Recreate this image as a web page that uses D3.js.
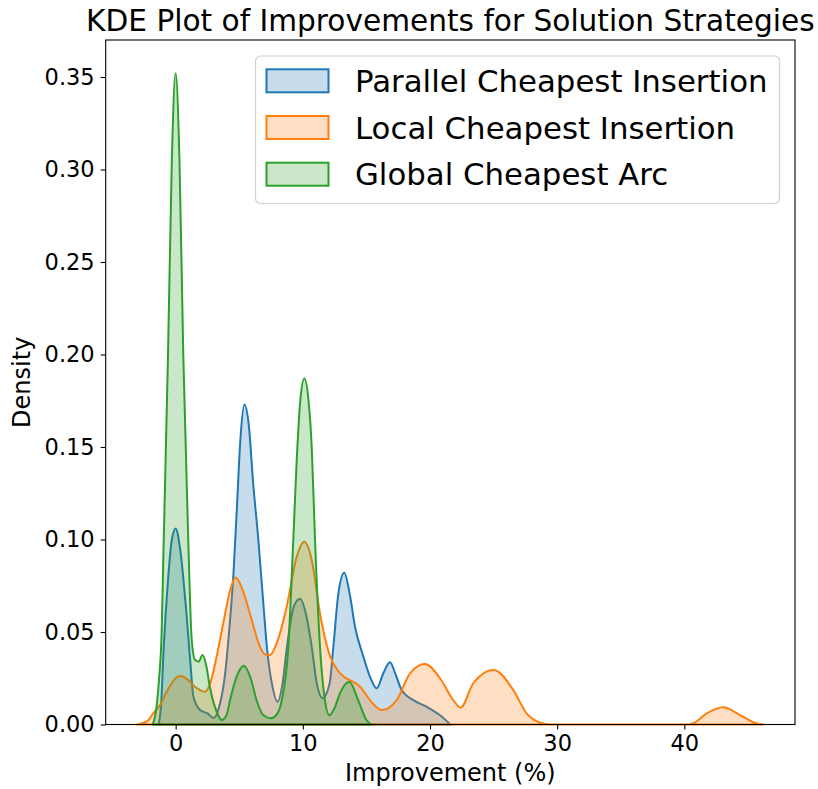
<!DOCTYPE html>
<html>
<head>
<meta charset="utf-8">
<script src="https://cdn.jsdelivr.net/npm/d3@7"></script>
<style>
  body { margin: 0; background: #fff; }
  text { font-family: "DejaVu Sans", sans-serif; fill: #000; }
</style>
</head>
<body>
<div class="home"></div>
<script>
// series names, in legend order
const seriesNames = ["Parallel Cheapest Insertion", "Local Cheapest Insertion", "Global Cheapest Arc"];
const seriesColors = ["#1f77b4", "#ff7f0e", "#2ca02c"];

// KDE curves: [improvement %, density]
const parallelPts = [[-1.35,0],[-1.15,0.01],[-0.95,0.04],[-0.6,0.078],[-0.3,0.1],[0,0.106],[0.35,0.095],[0.85,0.06],[1.15,0.034],[1.4,0.015],[1.9,0.008],[2.5,0.006],[3.0,0.0035],[3.4,0.009],[3.9,0.028],[4.2,0.05],[4.55,0.082],[4.8,0.115],[5.1,0.155],[5.4,0.173],[5.75,0.162],[6.1,0.13],[6.5,0.1],[6.9,0.065],[7.2,0.04],[7.6,0.021],[8.0,0.0123],[8.4,0.022],[8.75,0.042],[9.3,0.064],[9.78,0.068],[10.3,0.058],[10.7,0.042],[11.1,0.022],[11.56,0.0142],[12.1,0.022],[12.4,0.042],[12.8,0.071],[13.26,0.082],[13.7,0.07],[14.1,0.053],[14.76,0.0367],[15.28,0.0258],[15.81,0.0196],[16.33,0.0277],[16.85,0.0336],[17.3,0.027],[17.77,0.0186],[18.69,0.0132],[19.74,0.0096],[20.79,0.005],[21.6,0]];
const localPts = [[-3.07,0],[-2.28,0.0015],[-1.76,0.006],[-1.23,0.0105],[-0.6,0.019],[0,0.025],[0.34,0.0262],[0.9,0.0245],[1.52,0.0204],[2.3,0.0177],[2.7,0.022],[3.2,0.036],[3.75,0.055],[4.3,0.073],[4.72,0.0795],[5.2,0.074],[5.84,0.06],[6.63,0.042],[7.0,0.038],[7.42,0.0376],[8.0,0.045],[8.73,0.0637],[9.52,0.0907],[10.12,0.0988],[10.7,0.089],[11.35,0.06],[11.8,0.045],[12.14,0.037],[12.66,0.03],[13.2,0.026],[13.7,0.024],[14.5,0.0204],[15.28,0.0132],[16.2,0.0078],[17.38,0.0132],[18.43,0.0277],[19.6,0.0327],[20.79,0.025],[21.83,0.0132],[22.41,0.0091],[23.4,0.0223],[24.98,0.0295],[26.55,0.0186],[27.6,0.006],[28.65,0.001],[29.5,0],[40.2,0],[40.7,0.0007],[41.76,0.006],[43.07,0.0093],[44.38,0.0051],[45.7,0.0006],[46.2,0]];
const globalPts = [[-1.8,0],[-1.5,0.0096],[-1.3,0.025],[-1.1,0.05],[-0.97,0.09],[-0.6,0.2],[-0.3,0.305],[0,0.352],[0.3,0.305],[0.6,0.2],[0.99,0.1],[1.26,0.046],[1.52,0.035],[1.8,0.034],[2.12,0.0376],[2.4,0.032],[2.7,0.02],[3.35,0.005],[3.62,0.0024],[4.0,0.005],[4.27,0.013],[4.8,0.026],[5.37,0.0318],[5.9,0.025],[6.37,0.013],[6.9,0.005],[7.5,0.0034],[8.0,0.006],[8.34,0.013],[8.86,0.042],[9.25,0.0997],[9.52,0.143],[9.8,0.175],[10.12,0.187],[10.45,0.175],[10.7,0.15],[10.96,0.0997],[11.35,0.042],[11.74,0.013],[12.08,0.005],[12.5,0.009],[12.92,0.0168],[13.65,0.0231],[14.36,0.013],[15.0,0.0024],[15.4,0]];

const xTicks = [0, 10, 20, 30, 40];
const yTicks = [0, 0.05, 0.10, 0.15, 0.20, 0.25, 0.30, 0.35];

const width = 818, height = 789;
const plotLeft = 105.7, plotRight = 795, plotTop = 40, plotBottom = 724.5;

const svg = d3.select(".home").append("svg")
  .attr("width", width)
  .attr("height", height);

const x = d3.scaleLinear().domain([-5.5, 48.7]).range([plotLeft, plotRight]);
const y = d3.scaleLinear().domain([0, 0.37]).range([plotBottom, plotTop]);

// areas, drawn in legend order
const area = d3.area()
  .x(d => x(d[0]))
  .y0(y(0))
  .y1(d => y(d[1]))
  .curve(d3.curveMonotoneX);

[parallelPts, localPts, globalPts].forEach((pts, i) => {
  svg.append("path")
    .attr("d", area(pts))
    .style("fill", seriesColors[i])
    .style("fill-opacity", 0.25)
    .style("stroke", seriesColors[i])
    .style("stroke-width", 2)
    .style("stroke-linejoin", "round");
});

// axes
const xAxis = svg.append("g")
  .attr("transform", "translate(0," + plotBottom + ")")
  .call(d3.axisBottom(x).tickValues(xTicks).tickSize(5).tickPadding(6).tickFormat(d3.format("d")));
const yAxis = svg.append("g")
  .attr("transform", "translate(" + plotLeft + ",0)")
  .call(d3.axisLeft(y).tickValues(yTicks).tickSize(5).tickPadding(6).tickFormat(d3.format(".2f")));
[xAxis, yAxis].forEach(g => {
  g.select(".domain").remove();
  g.selectAll("line").style("stroke", "#000").style("stroke-width", 1.1);
  g.selectAll("text").style("font-size", "22.5px").style("font-family", "DejaVu Sans");
});

// frame
svg.append("rect")
  .attr("x", plotLeft).attr("y", plotTop)
  .attr("width", plotRight - plotLeft).attr("height", plotBottom - plotTop)
  .style("fill", "none").style("stroke", "#000").style("stroke-width", 1.1);

// title and axis labels
svg.append("text")
  .attr("x", (plotLeft + plotRight) / 2).attr("y", 31)
  .style("text-anchor", "middle").style("font-size", "29.6px")
  .text("KDE Plot of Improvements for Solution Strategies");
svg.append("text")
  .attr("x", (plotLeft + plotRight) / 2).attr("y", 781)
  .style("text-anchor", "middle").style("font-size", "24px")
  .text("Improvement (%)");
svg.append("text")
  .attr("transform", "translate(30," + (plotTop + plotBottom) / 2 + ") rotate(-90)")
  .style("text-anchor", "middle").style("font-size", "24px")
  .text("Density");

// legend
const legend = svg.append("g");
legend.append("rect")
  .attr("x", 255.5).attr("y", 56)
  .attr("width", 524).attr("height", 147.5)
  .attr("rx", 5)
  .style("fill", "#fff").style("fill-opacity", 0.8)
  .style("stroke", "#d0d0d0").style("stroke-width", 1.2);
seriesNames.forEach((name, i) => {
  const cy = 80.8 + i * 46.7;
  legend.append("rect")
    .attr("x", 266.5).attr("y", cy - 11.5)
    .attr("width", 62).attr("height", 23)
    .style("fill", seriesColors[i]).style("fill-opacity", 0.25)
    .style("stroke", seriesColors[i]).style("stroke-width", 2);
  legend.append("text")
    .attr("x", 355).attr("y", cy + 11)
    .style("font-size", "30.8px")
    .text(name);
});
</script>
</body>
</html>
